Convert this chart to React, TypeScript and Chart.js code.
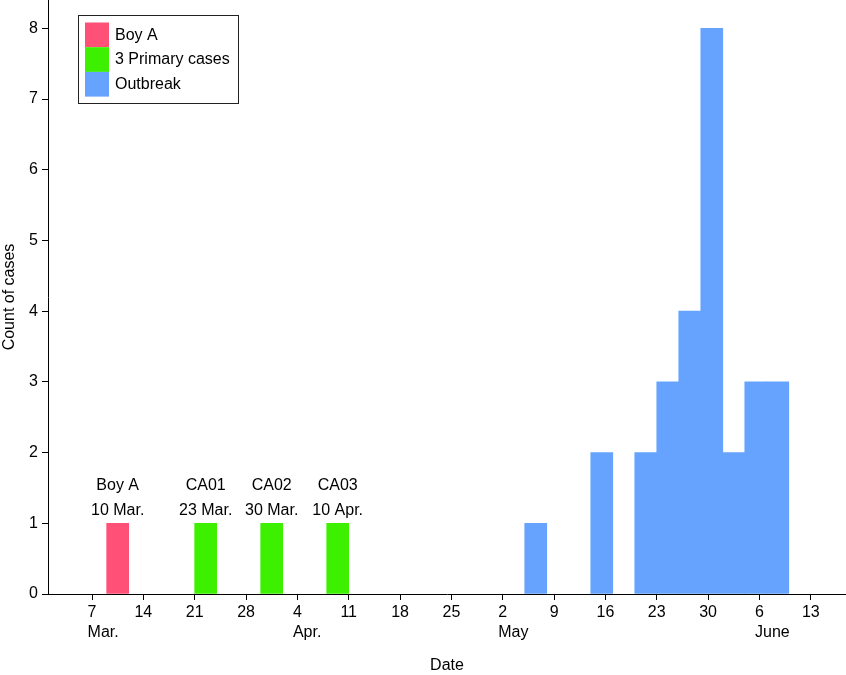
import React, { useEffect, useRef } from "react";
import { Chart, registerables } from "chart.js";

Chart.register(...registerables);

// ---- data (dates are month-day, bins are 3 days wide starting at the given date) ----
const BIN_DAYS = 3;
const AXIS_START = "03-01";
const AXIS_END_OFFSET = 108.8; // days after 1 March where the axis ends

const boyADates = ["03-09"];
const boyACounts = [1];

const primaryDates = ["03-21", "03-30", "04-08"];
const primaryCounts = [1, 1, 1];

const outbreakDates = ["05-05", "05-14", "05-20", "05-23", "05-26", "05-29", "06-01", "06-04", "06-07"];
const outbreakCounts = [1, 2, 2, 3, 4, 8, 2, 3, 3];

const seriesLabels = ["Boy A", "3 Primary cases", "Outbreak"];
const seriesColors = ["#FF5078", "#3CF000", "#66A3FF"];

const tickDates = ["03-07", "03-14", "03-21", "03-28", "04-04", "04-11", "04-18", "04-25", "05-02", "05-09", "05-16", "05-23", "05-30", "06-06", "06-13"];
const tickDayLabels = ["7", "14", "21", "28", "4", "11", "18", "25", "2", "9", "16", "23", "30", "6", "13"];
const tickMonthLabels = ["Mar.", "", "", "", "Apr.", "", "", "", "May", "", "", "", "", "June", ""];

const yTicks = [0, 1, 2, 3, 4, 5, 6, 7, 8];
const Y_MAX = 8.4;

const annotationDates = ["03-09", "03-21", "03-30", "04-08"];
const annotationCounts = [1, 1, 1, 1];
const annotationNames = ["Boy A", "CA01", "CA02", "CA03"];
const annotationDateLabels = ["10 Mar.", "23 Mar.", "30 Mar.", "10 Apr."];

// ---- helpers ----
function dayOffset(md: string): number {
  const [m, d] = md.split("-").map(Number);
  const [m0, d0] = AXIS_START.split("-").map(Number);
  return (Date.UTC(2000, m - 1, d) - Date.UTC(2000, m0 - 1, d0)) / 86400000;
}
function binPoints(dates: string[], counts: number[]) {
  return dates.map((d, i) => ({ x: dayOffset(d) + BIN_DAYS / 2, y: counts[i] }));
}

const FONT = "'Liberation Sans', Arial, Helvetica, sans-serif";

const overlayPlugin = {
  id: "overlay",
  afterDraw(chart: any) {
    const ctx = chart.ctx;
    const xs = chart.scales.x;
    const ys = chart.scales.y;
    const area = chart.chartArea;
    ctx.save();
    ctx.font = `16px ${FONT}`;
    ctx.fillStyle = "#000";

    // month labels, left-aligned with the day label
    ctx.textAlign = "left";
    ctx.textBaseline = "middle";
    tickDates.forEach((d, i) => {
      const m = tickMonthLabels[i];
      if (!m) return;
      const px = xs.getPixelForValue(dayOffset(d));
      const w = ctx.measureText(tickDayLabels[i]).width;
      ctx.fillText(m, px - w / 2, xs.top + 39);
    });

    // annotations above the early bars
    ctx.textAlign = "center";
    annotationDates.forEach((d, i) => {
      const px = xs.getPixelForValue(dayOffset(d) + BIN_DAYS / 2);
      const py = ys.getPixelForValue(annotationCounts[i]);
      ctx.fillText(annotationDateLabels[i], px, py - 13);
      ctx.fillText(annotationNames[i], px, py - 38);
    });

    // legend
    const lx = area.left + 30;
    const ly = area.top + 15;
    const boxW = 160;
    const boxH = 88;
    const sw = 24;
    const sh = 24.7;
    ctx.strokeStyle = "#222";
    ctx.lineWidth = 1;
    ctx.strokeRect(lx + 0.5, ly + 0.5, boxW, boxH);
    ctx.textAlign = "left";
    seriesLabels.forEach((lab, i) => {
      const top = ly + 7.5 + i * sh;
      ctx.fillStyle = seriesColors[i];
      ctx.fillRect(lx + 7, top, sw, sh);
      ctx.fillStyle = "#000";
      ctx.fillText(lab, lx + 37, top + sh / 2 + 0.5);
    });
    ctx.restore();
  },
};

export default function App() {
  const canvasRef = useRef<HTMLCanvasElement | null>(null);

  useEffect(() => {
    document.body.style.margin = "0";
    const canvas = canvasRef.current;
    if (!canvas) return;
    Chart.defaults.font.family = FONT;
    Chart.defaults.font.size = 16;
    Chart.defaults.color = "#000";

    const datasets = [
      { label: seriesLabels[0], data: binPoints(boyADates, boyACounts) },
      { label: seriesLabels[1], data: binPoints(primaryDates, primaryCounts) },
      { label: seriesLabels[2], data: binPoints(outbreakDates, outbreakCounts) },
    ].map((ds, i) => ({
      ...ds,
      backgroundColor: seriesColors[i],
      borderWidth: 0,
      grouped: false,
      barPercentage: 1,
      categoryPercentage: 1,
    }));

    const chart = new Chart(canvas, {
      type: "bar",
      data: { datasets },
      plugins: [overlayPlugin],
      options: {
        animation: false,
        responsive: false,
        maintainAspectRatio: false,
        layout: { padding: 0 },
        plugins: { legend: { display: false }, tooltip: { enabled: false } },
        scales: {
          x: {
            type: "linear",
            min: 0,
            max: AXIS_END_OFFSET,
            offset: false,
            afterBuildTicks: (s: any) => {
              s.ticks = tickDates.map((d) => ({ value: dayOffset(d) }));
            },
            afterFit: (s: any) => {
              s.height = 81;
              s.paddingLeft = 0;
              s.paddingRight = 0;
            },
            ticks: {
              autoSkip: false,
              maxRotation: 0,
              padding: 3,
              color: "#000",
              font: { size: 16 },
              callback: (v: any) => {
                const i = tickDates.findIndex((d) => dayOffset(d) === v);
                return i >= 0 ? tickDayLabels[i] : "";
              },
            },
            grid: { display: true, offset: false, drawOnChartArea: false, drawTicks: true, tickLength: 6, color: "#000" },
            border: { display: true, color: "#000", width: 1 },
            title: { display: true, text: "Date", color: "#000", font: { size: 16 }, padding: 0 },
          },
          y: {
            type: "linear",
            min: 0,
            max: Y_MAX,
            afterBuildTicks: (s: any) => {
              s.ticks = yTicks.map((v) => ({ value: v }));
            },
            afterFit: (s: any) => {
              s.width = 48;
              s.paddingTop = 0;
              s.paddingBottom = 0;
            },
            ticks: { padding: 4, color: "#000", font: { size: 16 } },
            grid: { display: true, drawOnChartArea: false, drawTicks: true, tickLength: 6, color: "#000" },
            border: { display: true, color: "#000", width: 1 },
            title: { display: true, text: "Count of cases", color: "#000", font: { size: 16 }, padding: 0 },
          },
        },
      },
    } as any);
    return () => chart.destroy();
  }, []);

  return (
    <div style={{ width: 846, height: 675 }}>
      <canvas ref={canvasRef} width={846} height={675} style={{ display: "block" }} />
    </div>
  );
}
